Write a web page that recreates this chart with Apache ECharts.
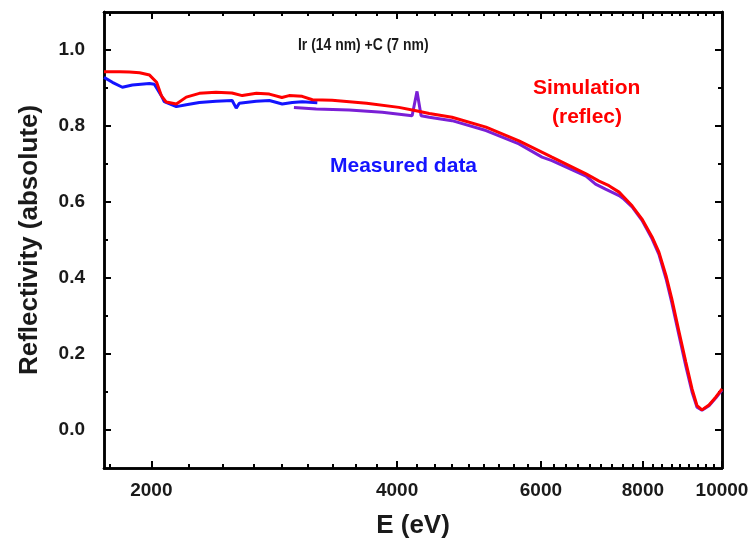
<!DOCTYPE html>
<html>
<head>
<meta charset="utf-8">
<script src="https://cdn.jsdelivr.net/npm/echarts@6/dist/echarts.min.js"></script>
<style>
  html, body { margin: 0; padding: 0; background: #fff; }
  #chart { width: 755px; height: 544px; }
</style>
</head>
<body>
<div id="chart"></div>
<script>
// simulation (reflec)
const simEnergy = [1750, 1830, 1880, 1935, 1990, 2030, 2057, 2086, 2146, 2207, 2290, 2400, 2510, 2585, 2690, 2790, 2890, 2950, 3060, 3150, 3330, 3670, 4020, 4220, 4380, 4670, 5140, 5640, 6190, 6815, 7070, 7270, 7480, 7760, 7980, 8210, 8370, 8540, 8680, 8860, 9030, 9190, 9320, 9450, 9640, 9830, 10000];
const simRefl = [0.943, 0.943, 0.942, 0.940, 0.934, 0.915, 0.880, 0.863, 0.858, 0.876, 0.886, 0.889, 0.887, 0.880, 0.886, 0.884, 0.875, 0.880, 0.878, 0.869, 0.868, 0.860, 0.849, 0.840, 0.833, 0.823, 0.797, 0.761, 0.718, 0.674, 0.655, 0.643, 0.626, 0.590, 0.555, 0.508, 0.468, 0.406, 0.345, 0.258, 0.179, 0.108, 0.064, 0.053, 0.066, 0.087, 0.108];

// measured data, low energy part (blue)
const lowEnergy = [1750, 1792, 1843, 1896, 1989, 2017, 2057, 2074, 2146, 2207, 2290, 2400, 2512, 2541, 2563, 2688, 2790, 2893, 2976, 3061, 3194];
const lowRefl = [0.928, 0.915, 0.902, 0.908, 0.912, 0.910, 0.880, 0.864, 0.851, 0.856, 0.862, 0.865, 0.867, 0.847, 0.860, 0.865, 0.867, 0.858, 0.862, 0.864, 0.861];

// measured data, high energy part (purple)
const highEnergy = [2990, 3184, 3494, 3836, 4173, 4231, 4280, 4380, 4670, 5140, 5640, 6020, 6190, 6815, 7000, 7200, 7480, 7560, 7760, 7980, 8210, 8370, 8540, 8680, 8860, 9030, 9190, 9320, 9450, 9640, 9830, 10000];
const highRefl = [0.849, 0.845, 0.842, 0.836, 0.827, 0.891, 0.827, 0.823, 0.814, 0.788, 0.753, 0.718, 0.709, 0.668, 0.647, 0.634, 0.617, 0.610, 0.587, 0.552, 0.503, 0.462, 0.398, 0.335, 0.248, 0.168, 0.100, 0.060, 0.052, 0.064, 0.085, 0.105];

const xTickLabels = [2000, 4000, 6000, 8000, 10000];
const yTickLabels = [0, 0.2, 0.4, 0.6, 0.8, 1.0];
const yMinorTicks = [0.1, 0.3, 0.5, 0.7, 0.9];

// minor ticks: 9 steps between labelled energies
let xMinorTicks = [1777.8];
for (let i = 0; i < xTickLabels.length - 1; i++) {
  for (let k = 1; k < 9; k++) {
    xMinorTicks.push(xTickLabels[i] + k * (xTickLabels[i + 1] - xTickLabels[i]) / 9);
  }
}

const pair = (xs, ys) => xs.map((x, i) => [x, ys[i]]);

const font = "Liberation Sans";
const lineStyle = { color: "#000", width: 2.5 };

function xAx(pos, ticks, len, labels) {
  return {
    type: "log", logBase: 10, min: 1750, max: 10000, position: pos,
    axisLine: { show: true, onZero: false, lineStyle: lineStyle },
    axisTick: { show: true, inside: true, length: len, customValues: ticks, lineStyle: { color: "#000", width: 2 } },
    axisLabel: labels ? { show: true, customValues: ticks, margin: 13, color: "#1a1a1a", fontFamily: font, fontWeight: "bold", fontSize: 19, formatter: v => String(Math.round(v)) } : { show: false },
    splitLine: { show: false }, minorTick: { show: false }
  };
}
function yAx(pos, ticks, len, labels) {
  return {
    type: "value", min: -0.1, max: 1.1, position: pos,
    axisLine: { show: true, onZero: false, lineStyle: lineStyle },
    axisTick: { show: true, inside: true, length: len, customValues: ticks, lineStyle: { color: "#000", width: 2 } },
    axisLabel: labels ? { show: true, customValues: ticks, margin: 19, color: "#1a1a1a", fontFamily: font, fontWeight: "bold", fontSize: 19, formatter: v => v.toFixed(1) } : { show: false },
    splitLine: { show: false }
  };
}

const xAxes = [xAx("bottom", xTickLabels, 7, true), xAx("bottom", xMinorTicks, 4, false), xAx("top", xTickLabels, 7, false), xAx("top", xMinorTicks, 4, false)];
xAxes[0].name = "E (eV)";
xAxes[0].nameLocation = "middle";
xAxes[0].nameGap = 45;
xAxes[0].nameTextStyle = { fontFamily: font, fontWeight: "bold", fontSize: 26, color: "#1a1a1a" };

const yAxes = [yAx("left", yTickLabels, 7, true), yAx("left", yMinorTicks, 4, false), yAx("right", yTickLabels, 7, false), yAx("right", yMinorTicks, 4, false)];
yAxes[0].name = "Reflectivity (absolute)";
yAxes[0].nameLocation = "middle";
yAxes[0].nameGap = 61;
yAxes[0].nameTextStyle = { fontFamily: font, fontWeight: "bold", fontSize: 26, color: "#1a1a1a" };

const chart = echarts.init(document.getElementById("chart"));
chart.setOption({
  animation: false,
  backgroundColor: "#fff",
  grid: { left: 104, right: 33, top: 12, bottom: 76, containLabel: false },
  xAxis: xAxes,
  yAxis: yAxes,
  graphic: [
    { type: "text", left: 298, top: 37, scaleX: 0.82, style: { text: "Ir (14 nm) +C (7 nm)", font: "bold 17px Liberation Sans", fill: "#1a1a1a" } },
    { type: "text", left: 533, top: 78, style: { text: "Simulation", font: "bold 21px Liberation Sans", fill: "#ff0000" } },
    { type: "text", left: 552, top: 107, style: { text: "(reflec)", font: "bold 21px Liberation Sans", fill: "#ff0000" } },
    { type: "text", left: 330, top: 156, style: { text: "Measured data", font: "bold 21px Liberation Sans", fill: "#1414ff" } }
  ],
  series: [
    { type: "line", name: "measured low", data: pair(lowEnergy, lowRefl), showSymbol: false, lineStyle: { color: "#1414ff", width: 3 } },
    { type: "line", name: "measured high", data: pair(highEnergy, highRefl), showSymbol: false, lineStyle: { color: "#7a1fd6", width: 3 } },
    { type: "line", name: "simulation", data: pair(simEnergy, simRefl), showSymbol: false, lineStyle: { color: "#ff0000", width: 3 } }
  ]
});
</script>
</body>
</html>
